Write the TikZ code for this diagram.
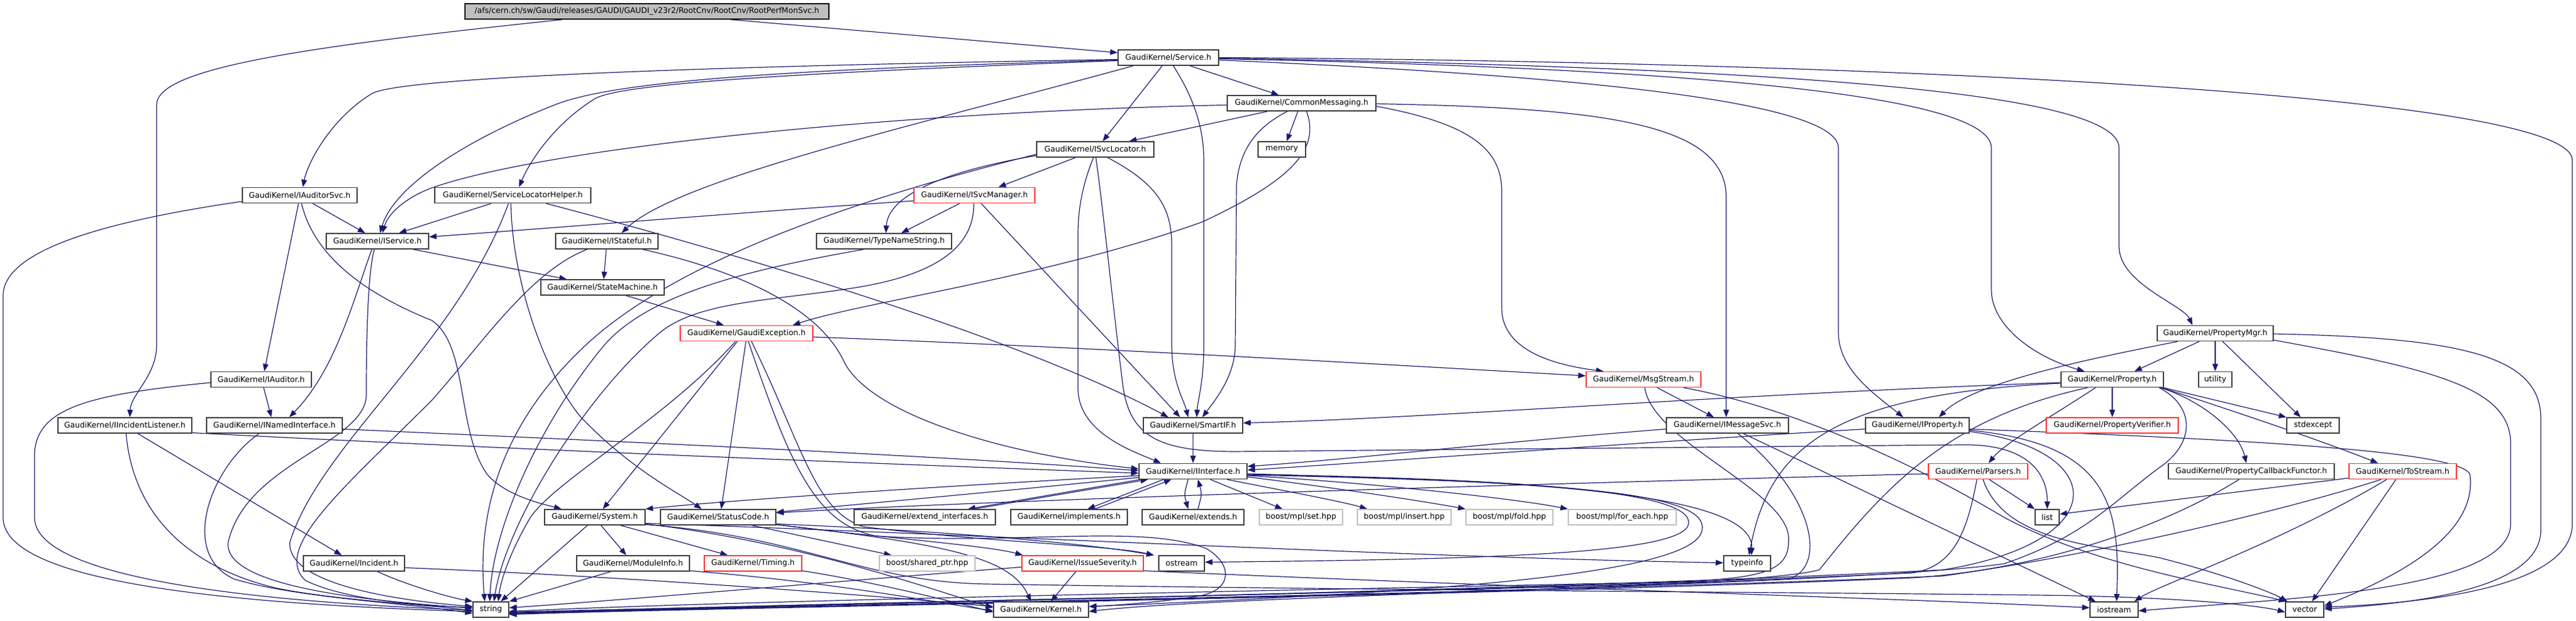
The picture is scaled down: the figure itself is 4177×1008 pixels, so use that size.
\documentclass[tikz,border=0pt]{standalone}
\usepackage{fontspec}
\setmainfont{DejaVu Sans}
\usetikzlibrary{arrows.meta}
\pgfdeclarelayer{bg}
\pgfsetlayers{bg,main}
\definecolor{edgec}{RGB}{25,25,112}
\definecolor{boxc}{RGB}{60,60,60}
\definecolor{redc}{RGB}{255,50,50}
\definecolor{greyc}{RGB}{191,191,191}
\definecolor{rootfill}{RGB}{191,191,191}
\begin{document}
\begin{tikzpicture}[x=1pt,y=-1pt,
  bx/.style={draw=boxc, line width=1.6pt, fill=white, minimum height=25pt, inner sep=0pt, font=\fontsize{12.6pt}{15pt}\selectfont, anchor=center},
  redbx/.style={bx, draw=redc},
  greybx/.style={bx, draw=greyc},
  rootbx/.style={bx, fill=rootfill, draw=black},
  lnk/.style={draw=edgec, line width=1.2pt, -{Triangle[length=12pt,width=9pt]}}
]
\useasboundingbox (0,0) rectangle (4177,1008);
% nodes
\node[rootbx, minimum width=590pt] (root) at (1049,18.5) {/afs/cern.ch/sw/Gaudi/releases/GAUDI/GAUDI\_v23r2/RootCnv/RootCnv/RootPerfMonSvc.h};
\node[bx, minimum width=163pt] (service) at (1894.5,93.5) {GaudiKernel/Service.h};
\node[bx, minimum width=241pt] (commsg) at (2110.5,167.5) {GaudiKernel/CommonMessaging.h};
\node[bx, minimum width=190pt] (isvcloc) at (1776,242.5) {GaudiKernel/ISvcLocator.h};
\node[bx, minimum width=77pt] (memory) at (2078.5,242.5) {memory};
\node[redbx, minimum width=196pt] (isvcmgr) at (1580,317) {GaudiKernel/ISvcManager.h};
\node[bx, minimum width=219pt] (typename) at (1433.5,391.5) {GaudiKernel/TypeNameString.h};
\node[bx, minimum width=186pt] (iauditorsvc) at (486,317) {GaudiKernel/IAuditorSvc.h};
\node[bx, minimum width=253pt] (slh) at (831.5,317) {GaudiKernel/ServiceLocatorHelper.h};
\node[bx, minimum width=166pt] (iservice) at (612,391.5) {GaudiKernel/IService.h};
\node[bx, minimum width=166pt] (istateful) at (984,391.5) {GaudiKernel/IStateful.h};
\node[bx, minimum width=200pt] (statemachine) at (977,466.5) {GaudiKernel/StateMachine.h};
\node[bx, minimum width=163pt] (iauditor) at (423.5,616) {GaudiKernel/IAuditor.h};
\node[bx, minimum width=217pt] (iincident) at (202.5,690.5) {GaudiKernel/IIncidentListener.h};
\node[bx, minimum width=220pt] (inamed) at (445,690.5) {GaudiKernel/INamedInterface.h};
\node[bx, minimum width=164pt] (incident) at (574,914.5) {GaudiKernel/Incident.h};
\node[redbx, minimum width=215pt] (gexc) at (1210.5,541) {GaudiKernel/GaudiException.h};
\node[bx, minimum width=163pt] (system) at (964.5,839.5) {GaudiKernel/System.h};
\node[bx, minimum width=187pt] (statuscode) at (1164.5,839.5) {GaudiKernel/StatusCode.h};
\node[bx, minimum width=183pt] (moduleinfo) at (1026.5,914.5) {GaudiKernel/ModuleInfo.h};
\node[redbx, minimum width=158pt] (timing) at (1221,914.5) {GaudiKernel/Timing.h};
\node[bx, minimum width=58pt] (string) at (796,989.5) {string};
\node[bx, minimum width=161pt] (smartif) at (1934.5,690.5) {GaudiKernel/SmartIF.h};
\node[bx, minimum width=175pt] (iinterface) at (1934.5,765) {GaudiKernel/IInterface.h};
\node[bx, minimum width=229pt] (extint) at (1499.5,839.5) {GaudiKernel/extend\_interfaces.h};
\node[bx, minimum width=189pt] (implements) at (1733.5,839.5) {GaudiKernel/implements.h};
\node[bx, minimum width=165pt] (extends) at (1934.5,839.5) {GaudiKernel/extends.h};
\node[greybx, minimum width=135pt] (mplset) at (2109.5,839.5) {boost/mpl/set.hpp};
\node[greybx, minimum width=155pt] (sharedptr) at (1503.5,914.5) {boost/shared\_ptr.hpp};
\node[redbx, minimum width=197pt] (issue) at (1755.5,914.5) {GaudiKernel/IssueSeverity.h};
\node[bx, minimum width=74pt] (ostream) at (1916,914.5) {ostream};
\node[bx, minimum width=154pt] (kernel) at (1688,989.5) {GaudiKernel/Kernel.h};
\node[redbx, minimum width=186pt] (msgstream) at (2665,616) {GaudiKernel/MsgStream.h};
\node[bx, minimum width=198pt] (imsgsvc) at (2801,690.5) {GaudiKernel/IMessageSvc.h};
\node[greybx, minimum width=152pt] (insert) at (2277,839.5) {boost/mpl/insert.hpp};
\node[greybx, minimum width=141pt] (fold) at (2447.5,839.5) {boost/mpl/fold.hpp};
\node[greybx, minimum width=175pt] (foreach) at (2630.5,839.5) {boost/mpl/for\_each.hpp};
\node[bx, minimum width=76pt] (typeinfo) at (2833,914.5) {typeinfo};
\node[bx, minimum width=168pt] (iproperty) at (3109,690.5) {GaudiKernel/IProperty.h};
\node[bx, minimum width=166pt] (property) at (3425,616) {GaudiKernel/Property.h};
\node[redbx, minimum width=214pt] (propverif) at (3425,690.5) {GaudiKernel/PropertyVerifier.h};
\node[redbx, minimum width=161pt] (parsers) at (3207.5,765) {GaudiKernel/Parsers.h};
\node[bx, minimum width=39pt] (list) at (3319.5,839.5) {list};
\node[bx, minimum width=78pt] (iostream) at (3428,989.5) {iostream};
\node[bx, minimum width=188pt] (propmgr) at (3592,541) {GaudiKernel/PropertyMgr.h};
\node[bx, minimum width=54pt] (utility) at (3592,616) {utility};
\node[bx, minimum width=85pt] (stdexcept) at (3750.5,690.5) {stdexcept};
\node[bx, minimum width=269pt] (propcb) at (3650.5,765) {GaudiKernel/PropertyCallbackFunctor.h};
\node[redbx, minimum width=174pt] (tostream) at (3896,765) {GaudiKernel/ToStream.h};
\node[bx, minimum width=62pt] (vector) at (3737,989.5) {vector};

\begin{pgfonlayer}{bg}
\fill[white] (0,0) rectangle (4177,1008);
% root
\draw[lnk] ([xshift=135]root.south) -- ([yshift=8]service.west);
\draw[lnk] ([xshift=-137]root.south) .. controls (500,75) and (254,110) .. (254,170) -- (254,560) .. controls (254,610) and (212,640) .. ([xshift=8]iincident.north);
% service
\draw[lnk] ([yshift=-3]service.west) .. controls (1000,110) and (640,130) .. (603,152) .. controls (540,190) and (500,260) .. ([xshift=5]iauditorsvc.north);
\draw[lnk] ([yshift=-4]service.west) .. controls (1300,112) and (1000,130) .. (900,170) .. controls (760,225) and (640,300) .. ([xshift=4]iservice.north);
\draw[lnk] ([yshift=-5]service.west) .. controls (1300,118) and (1010,135) .. (965,160) .. controls (900,200) and (860,260) .. ([xshift=10]slh.north);
\draw[lnk] ([xshift=-57]service.south) .. controls (1500,200) and (1100,290) .. ([xshift=24]istateful.north);
\draw[lnk] ([xshift=-10]service.south) -- ([xshift=12]isvcloc.north);
\draw[lnk] ([xshift=35]service.south) -- ([xshift=-37]commsg.north);
\draw[lnk] ([xshift=8]service.south) .. controls (1930,150) and (1952,200) .. (1952,260) -- (1952,560) .. controls (1952,620) and (1942,650) .. ([xshift=6]smartif.north);
\draw[lnk] (service.east) .. controls (3000,100) and (4171,150) .. (4171,260) -- (4171,850) .. controls (4171,950) and (3950,978) .. ([yshift=4]vector.east);
\draw[lnk] ([yshift=-1]service.east) .. controls (2900,110) and (3436,150) .. (3436,240) -- (3436,400) .. controls (3436,460) and (3540,495) .. ([xshift=-37]propmgr.north);
\draw[lnk] ([yshift=-2]service.east) .. controls (2700,110) and (3229,150) .. (3229,240) -- (3229,470) .. controls (3229,530) and (3300,580) .. ([xshift=-45]property.north);
\draw[lnk] ([yshift=-4]service.east) .. controls (2500,120) and (2981,160) .. (2981,240) -- (2981,540) .. controls (2981,600) and (3040,640) .. ([xshift=-23]iproperty.north);
% commonmessaging
\draw[lnk] ([yshift=-3]commsg.west) .. controls (1500,180) and (900,235) .. (700,305) .. controls (660,320) and (630,345) .. ([xshift=8]iservice.north);
\draw[lnk] ([xshift=-55]commsg.south) -- ([xshift=55]isvcloc.north);
\draw[lnk] ([xshift=-6]commsg.south) -- ([xshift=8]memory.north);
\draw[lnk] ([xshift=-23]commsg.south) .. controls (2040,205) and (2010,240) .. (2005,300) -- (2003,560) .. controls (2003,610) and (1970,650) .. ([xshift=15]smartif.north);
\draw[lnk] ([xshift=8]commsg.south) .. controls (2140,240) and (2100,290) .. (1950,360) .. controls (1700,450) and (1400,490) .. ([xshift=75]gexc.north);
\draw[lnk] ([yshift=-5]commsg.east) .. controls (2380,200) and (2435,240) .. (2435,310) -- (2435,500) .. controls (2435,560) and (2500,590) .. ([xshift=-65]msgstream.north);
\draw[lnk] ([yshift=-1]commsg.east) .. controls (2600,175) and (2799,200) .. (2799,320) -- ([xshift=-2]imsgsvc.north);
% isvclocator
\draw[lnk] ([yshift=-10]isvcloc.west) .. controls (1520,280) and (1440,320) .. ([xshift=3]typename.north);
\draw[lnk] ([yshift=-8]isvcloc.west) .. controls (1400,320) and (1100,420) .. (950,560) .. controls (800,700) and (775,850) .. ([xshift=-10]string.north);
\draw[lnk] ([xshift=-32]isvcloc.south) -- ([xshift=39]isvcmgr.north);
\draw[lnk] ([xshift=-3]isvcloc.south) .. controls (1755,300) and (1748,340) .. (1748,380) -- (1748,630) .. controls (1748,700) and (1830,730) .. ([xshift=-52]iinterface.north);
\draw[lnk] ([xshift=1]isvcloc.south) .. controls (1790,350) and (1805,500) .. (1820,620) .. controls (1830,710) and (1880,732) .. (2000,733) -- (3180,722) .. controls (3290,720) and (3320,770) .. (list.north);
\draw[lnk] ([xshift=20]isvcloc.south) .. controls (1880,300) and (1900,340) .. (1900,400) -- (1900,560) .. controls (1900,620) and (1920,650) .. ([xshift=-8]smartif.north);
% isvcmanager
\draw[lnk] ([yshift=-9]isvcmgr.west) .. controls (1200,345) and (900,370) .. ([yshift=7]iservice.east);
\draw[lnk] ([xshift=-24]isvcmgr.south) -- ([xshift=28]typename.north);
\draw[lnk] ([xshift=-1]isvcmgr.south) .. controls (1580,410) and (1500,450) .. (1380,468) .. controls (1250,488) and (1130,490) .. (1070,540) .. controls (950,640) and (820,850) .. ([xshift=5]string.north);
\draw[lnk] ([xshift=11]isvcmgr.south) -- ([xshift=-21]smartif.north);
% typenamestring
\draw[lnk] ([xshift=-33]typename.south) .. controls (1200,440) and (1050,480) .. (980,560) .. controls (880,680) and (800,850) .. ([xshift=-2]string.north);
% iauditorsvc
\draw[lnk] ([xshift=21]iauditorsvc.south) -- ([xshift=-20]iservice.north);
\draw[lnk] ([xshift=-2]iauditorsvc.south) -- ([xshift=5]iauditor.north);
\draw[lnk] ([yshift=-10]iauditorsvc.west) .. controls (200,355) and (5,400) .. (5,480) -- (5,840) .. controls (5,935) and (300,978) .. ([yshift=-3]string.west);
\draw[lnk] ([xshift=3]iauditorsvc.south) .. controls (510,420) and (600,480) .. (700,520) .. controls (760,560) and (740,700) .. (790,770) .. controls (820,805) and (880,818) .. ([xshift=-54]system.north);
% servicelocatorhelper
\draw[lnk] ([xshift=-35]slh.south) -- ([xshift=35]iservice.north);
\draw[lnk] ([xshift=-7]slh.south) .. controls (740,560) and (520,720) .. (470,880) .. controls (465,950) and (650,975) .. ([yshift=5]string.west);
\draw[lnk] ([xshift=-3]slh.south) .. controls (830,450) and (880,600) .. (940,675) .. controls (1020,760) and (1100,800) .. ([xshift=-27]statuscode.north);
\draw[lnk] ([xshift=54]slh.south) .. controls (1000,360) and (1600,520) .. ([xshift=-40]smartif.north);
% iservice
\draw[lnk] ([xshift=-9]iservice.south) .. controls (575,480) and (545,600) .. ([xshift=24]inamed.north);
\draw[lnk] ([xshift=-5]iservice.south) .. controls (594,450) and (594,600) .. (594,640) .. controls (594,720) and (400,750) .. (370,880) .. controls (360,960) and (650,978) .. ([yshift=2]string.west);
\draw[lnk] ([xshift=58]iservice.south) -- ([xshift=-58]statemachine.north);
% istateful
\draw[lnk] ([xshift=-1]istateful.south) -- ([xshift=2]statemachine.north);
\draw[lnk] ([xshift=-32]istateful.south) .. controls (860,440) and (780,560) .. (700,650) .. controls (560,790) and (440,890) .. (495,942) .. controls (560,975) and (700,985) .. ([yshift=4]string.west);
\draw[lnk] ([xshift=58]istateful.south) .. controls (1200,440) and (1330,500) .. (1370,590) .. controls (1420,680) and (1650,740) .. ([yshift=4]iinterface.west);
% statemachine
\draw[lnk] ([xshift=38]statemachine.south) -- ([xshift=-37]gexc.north);
% iauditor
\draw[lnk] ([xshift=4]iauditor.south) -- ([xshift=-5]inamed.north);
\draw[lnk] ([yshift=-5]iauditor.west) .. controls (150,640) and (56,660) .. (56,740) -- (56,840) .. controls (56,950) and (500,980) .. ([yshift=-1]string.west);
% iincidentlistener
\draw[lnk] ([yshift=-12]iincident.east) .. controls (800,728) and (1400,752) .. ([yshift=-3]iinterface.west);
\draw[lnk] ([xshift=2]iincident.south) .. controls (215,830) and (300,920) .. (450,955) .. controls (550,975) and (700,982) .. ([yshift=-2]string.west);
\draw[lnk] ([xshift=21]iincident.south) -- ([xshift=-20]incident.north);
% inamedinterface
\draw[lnk] ([yshift=-6]inamed.east) .. controls (900,712) and (1500,738) .. ([yshift=1]iinterface.west);
\draw[lnk] ([xshift=-25]inamed.south) .. controls (340,760) and (290,900) .. (380,940) .. controls (480,970) and (650,978) .. ([yshift=-6]string.west);
% incident
\draw[lnk] ([xshift=38]incident.south) .. controls (660,950) and (730,970) .. (string.north west);
\draw[lnk] ([yshift=-7]incident.east) .. controls (1000,935) and (1400,965) .. ([yshift=5]kernel.west);
% gaudiexception
\draw[lnk] ([yshift=-6]gexc.east) .. controls (1800,565) and (2300,595) .. ([yshift=6]msgstream.west);
\draw[lnk] ([xshift=-15]gexc.south) -- ([xshift=13]system.north);
\draw[lnk] ([xshift=-1]gexc.south) -- ([xshift=5]statuscode.north);
\draw[lnk] ([xshift=-18]gexc.south) .. controls (1080,680) and (900,780) .. (860,840) .. controls (830,890) and (812,940) .. ([xshift=12]string.north);
\draw[lnk] ([xshift=3]gexc.south) .. controls (1280,750) and (1320,850) .. (1420,870) .. controls (1650,885) and (1850,850) .. (1955,890) .. controls (2000,915) and (2000,960) .. (1940,968) .. controls (1880,978) and (1800,983) .. ([yshift=5]kernel.east);
\draw[lnk] ([xshift=8]gexc.south) .. controls (1300,720) and (1320,830) .. (1400,855) .. controls (1600,880) and (1800,885) .. ([xshift=-45]ostream.north);
% msgstream
\draw[lnk] ([xshift=22]msgstream.south) -- ([xshift=-22]imsgsvc.north);
\draw[lnk] ([xshift=2]msgstream.south) .. controls (2680,720) and (2910,800) .. (2900,880) .. controls (2900,930) and (2850,940) .. (2700,945) .. controls (2000,960) and (1200,975) .. ([yshift=-3]string.east);
\draw[lnk] ([xshift=65]msgstream.south) .. controls (2900,660) and (3100,750) .. (3250,840) .. controls (3400,920) and (3600,950) .. ([xshift=-30]vector.north);
% imessagesvc
\draw[lnk] ([yshift=-6]imsgsvc.west) .. controls (2400,720) and (2200,745) .. ([yshift=8]iinterface.east);
\draw[lnk] ([xshift=26]imsgsvc.south) -- ([xshift=-30]iostream.north);
\draw[lnk] ([xshift=17]imsgsvc.south) .. controls (2940,800) and (2965,920) .. (2900,940) .. controls (2500,958) and (1600,972) .. ([yshift=-5]string.east);
% iproperty
\draw[lnk] ([yshift=-6]iproperty.west) .. controls (2700,715) and (2200,752) .. ([yshift=2]iinterface.east);
\draw[lnk] ([yshift=-10]iproperty.east) .. controls (3420,730) and (3430,880) .. (3150,925) .. controls (2500,958) and (1600,974) .. ([yshift=-6]string.east);
\draw[lnk] ([yshift=-8]iproperty.east) .. controls (3420,720) and (3438,820) .. ([xshift=4]iostream.north);
\draw[lnk] ([yshift=-6]iproperty.east) .. controls (3700,715) and (3990,735) .. (4005,770) .. controls (4020,880) and (3850,950) .. ([yshift=6]vector.east);
% propertymgr
\draw[lnk] ([xshift=-26]propmgr.south) -- ([xshift=36]property.north);
\draw[lnk] ([xshift=-61]propmgr.south) .. controls (3400,580) and (3200,620) .. ([xshift=35]iproperty.north);
\draw[lnk] (propmgr.south) -- (utility.north);
\draw[lnk] ([xshift=12]propmgr.south) -- ([xshift=-20]stdexcept.north);
\draw[lnk] ([yshift=-1]propmgr.east) .. controls (4000,548) and (4120,580) .. (4120,680) -- (4120,860) .. controls (4120,960) and (3900,980) .. ([yshift=1]vector.east);
\draw[lnk] ([yshift=-11]propmgr.east) .. controls (3950,600) and (4071,630) .. (4071,720) -- (4071,850) .. controls (4071,960) and (3700,972) .. ([yshift=-2]iostream.east);
% property
\draw[lnk] ([yshift=-5]property.west) .. controls (2800,640) and (2300,680) .. ([yshift=4]smartif.east);
\draw[lnk] ([yshift=-6]property.west) .. controls (2980,640) and (2870,720) .. ([xshift=3]typeinfo.north);
\draw[lnk] ([xshift=-27]property.south) .. controls (3320,680) and (3250,720) .. ([xshift=17]parsers.north);
\draw[lnk] ([xshift=-40]property.south) .. controls (3150,680) and (3050,800) .. (2950,925) .. controls (2800,965) and (1500,975) .. ([yshift=-8]string.east);
\draw[lnk] (property.south) -- (propverif.north);
\draw[lnk] ([xshift=83]property.south) -- (stdexcept.north west);
\draw[lnk] ([xshift=80]property.south) .. controls (3600,660) and (3750,710) .. ([xshift=-40]tostream.north);
\draw[lnk] ([xshift=78]property.south) .. controls (3570,650) and (3630,700) .. ([xshift=-8]propcb.north);
\draw[lnk] ([xshift=76]property.south) .. controls (3560,660) and (3560,720) .. (3500,760) .. controls (3420,820) and (3380,870) .. (3250,915) .. controls (3000,950) and (2000,965) .. ([yshift=-3]kernel.east);
% parsers
\draw[lnk] ([yshift=-4]parsers.west) .. controls (2500,785) and (1600,812) .. ([yshift=7]statuscode.east);
\draw[lnk] ([xshift=-2]parsers.south) .. controls (3190,860) and (3170,920) .. (3100,930) .. controls (2500,958) and (1600,975) .. ([yshift=-4]string.east);
\draw[lnk] ([xshift=18]parsers.south) -- (list.north west);
\draw[lnk] ([xshift=8]parsers.south) .. controls (3250,880) and (3400,885) .. (3500,905) .. controls (3600,930) and (3680,960) .. ([xshift=-28]vector.north);
% tostream
\draw[lnk] ([yshift=-11]tostream.west) -- ([yshift=5]list.east);
\draw[lnk] ([xshift=-35]tostream.south) .. controls (3700,830) and (3400,900) .. (3150,935) .. controls (2500,962) and (1600,976) .. ([yshift=-6]string.east);
\draw[lnk] ([xshift=-26]tostream.south) .. controls (3700,880) and (3500,950) .. ([xshift=33]iostream.north);
\draw[lnk] ([xshift=-11]tostream.south) -- ([xshift=12]vector.north);
% propertycallbackfunctor
\draw[lnk] ([xshift=-20]propcb.south) .. controls (3500,860) and (3300,925) .. (3100,938) .. controls (2500,964) and (1600,978) .. ([yshift=-7]string.east);
% system
\draw[lnk] ([xshift=-12]system.south) -- ([xshift=16]string.north);
\draw[lnk] ([xshift=10]system.south) -- ([xshift=-11]moduleinfo.north);
\draw[lnk] ([xshift=42]system.south) -- ([xshift=-41]timing.north);
\draw[lnk] ([yshift=-11]system.east) .. controls (1300,880) and (1520,960) .. ([yshift=3]kernel.west);
\draw[lnk] ([yshift=-10]system.east) .. controls (1600,868) and (2300,905) .. ([yshift=1]typeinfo.west);
\draw[lnk] ([yshift=-12]system.east) .. controls (1300,870) and (1400,945) .. (1600,948) .. controls (2200,958) and (3000,962) .. (3300,966) .. controls (3500,968) and (3650,980) .. ([yshift=-4]vector.west);
% statuscode
\draw[lnk] ([xshift=55]statuscode.south) -- ([xshift=-58]sharedptr.north);
\draw[lnk] ([yshift=-12]statuscode.east) .. controls (1400,870) and (1600,885) .. ([xshift=-97]issue.north);
\draw[lnk] ([yshift=-11]statuscode.east) .. controls (1500,860) and (1750,880) .. ([xshift=-45]ostream.north);
\draw[lnk] ([yshift=-12]statuscode.east) .. controls (1560,885) and (1640,910) .. ([xshift=-16]kernel.north);
% moduleinfo, timing
\draw[lnk] ([xshift=-36]moduleinfo.south) -- (string.north east);
\draw[lnk] ([yshift=-12]moduleinfo.east) .. controls (1350,945) and (1500,975) .. ([yshift=-2]kernel.west);
\draw[lnk] ([yshift=-12]timing.east) .. controls (1420,945) and (1550,978) .. ([yshift=-4]kernel.west);
% issueseverity
\draw[lnk] ([xshift=-11]issue.south) -- ([xshift=16]kernel.north);
\draw[lnk] ([yshift=-6]issue.west) .. controls (1400,940) and (1000,975) .. ([yshift=3]string.east);
\draw[lnk] ([yshift=-12]issue.east) .. controls (2500,955) and (3100,972) .. ([yshift=3]iostream.west);
% iinterface
\draw[lnk] ([xshift=-85]iinterface.south) -- ([xshift=70]extint.north);
\draw[lnk] ([xshift=80]extint.north) -- ([xshift=-73]iinterface.south);
\draw[lnk] ([xshift=-48]iinterface.south) -- ([xshift=30]implements.north);
\draw[lnk] ([xshift=42]implements.north) -- ([xshift=-35]iinterface.south);
\draw[lnk] ([xshift=-8]iinterface.south) .. controls (1920,802) .. ([xshift=-8]extends.north);
\draw[lnk] ([xshift=8]extends.north) .. controls (1949,802) .. ([xshift=8]iinterface.south);
\draw[lnk] ([xshift=28]iinterface.south) -- ([xshift=-30]mplset.north);
\draw[lnk] ([xshift=55]iinterface.south) .. controls (2100,800) and (2180,815) .. ([xshift=-60]insert.north);
\draw[lnk] ([yshift=-9]iinterface.east) .. controls (2150,790) and (2300,812) .. (fold.north west);
\draw[lnk] ([yshift=-7]iinterface.east) .. controls (2200,782) and (2450,808) .. (foreach.north west);
\draw[lnk] ([yshift=-4]iinterface.east) .. controls (2400,780) and (2845,790) .. ([xshift=7]typeinfo.north);
\draw[lnk] ([yshift=-5]iinterface.east) .. controls (2500,778) and (2745,800) .. (2738,850) .. controls (2732,900) and (2400,908) .. ([yshift=2]ostream.east);
\draw[lnk] ([yshift=-6]iinterface.east) .. controls (2550,782) and (2770,800) .. (2760,860) .. controls (2750,935) and (2300,962) .. ([yshift=5]kernel.east);
\draw[lnk] ([yshift=-7]iinterface.west) .. controls (1600,785) and (1200,810) .. (system.north east);
\draw[lnk] ([yshift=-10]iinterface.west) .. controls (1600,800) and (1350,822) .. ([yshift=8]statuscode.east);
% smartif
\draw[lnk] (smartif.south) -- (iinterface.north);
\end{pgfonlayer}
\end{tikzpicture}
\end{document}
